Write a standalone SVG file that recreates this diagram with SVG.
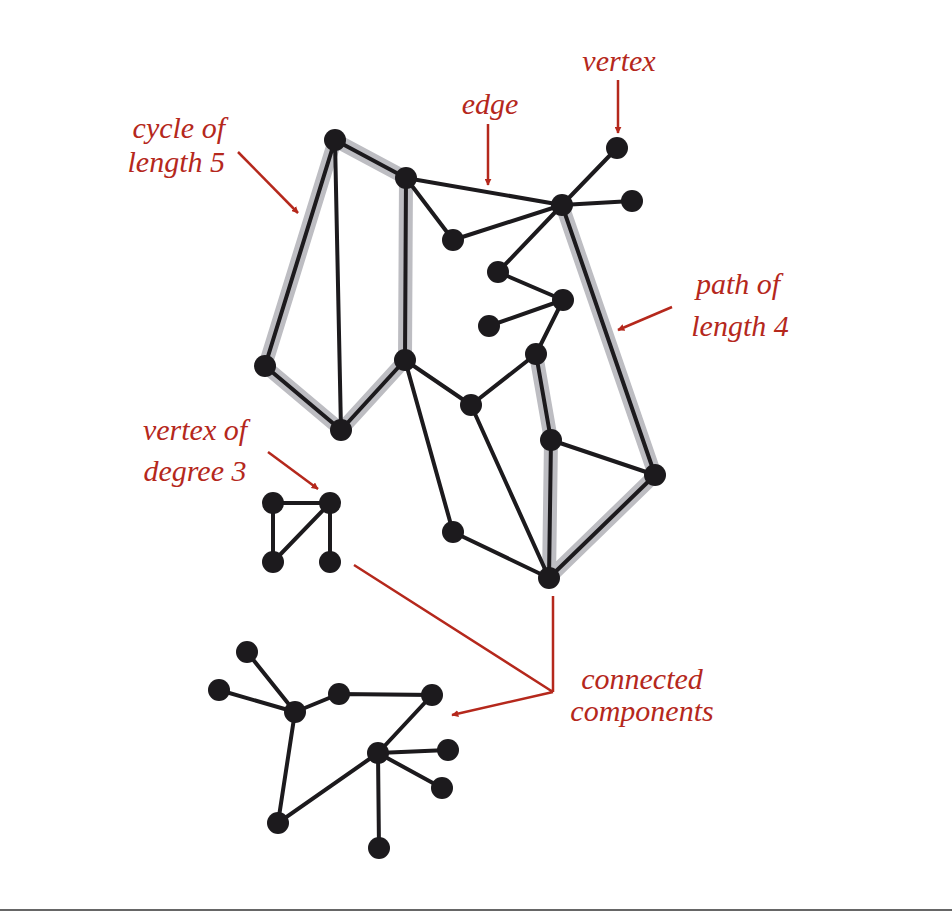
<svg xmlns="http://www.w3.org/2000/svg" width="952" height="913" viewBox="0 0 952 913">
<style>
.hl{stroke:#bdbdc2;stroke-width:14;fill:none;stroke-linejoin:round;stroke-linecap:round}
.e{stroke:#1c1a1d;stroke-width:4;fill:none}
.n{fill:#1c1a1d}
.l{font-family:"Liberation Serif",serif;font-style:italic;font-size:30px;fill:#b5281c}
.a{stroke:#b5281c;stroke-width:2.5;fill:none;marker-end:url(#ah)}
</style>
<defs><marker id="ah" viewBox="0 0 10 10" refX="9" refY="5" markerWidth="7" markerHeight="7" markerUnits="userSpaceOnUse" orient="auto"><path d="M0,0L10,5L0,10z" fill="#b5281c"/></marker>
<marker id="ah2" viewBox="0 0 10 10" refX="9" refY="5" markerWidth="14" markerHeight="14" markerUnits="userSpaceOnUse" orient="auto"><path d="M0,1L10,5L0,9z" fill="#b5281c"/></marker></defs>
<rect width="952" height="913" fill="#fff"/>
<g id="highlights">
<path class="hl" d="M335,140L406,178L405,360L341,430L265,366Z"/>
<path class="hl" d="M536,354L551,440L549,578L655,475L562,205"/>
</g>
<g id="connectors">
<path class="e" d="M335,140L406,178M335,140L265,366M335,140L341,430M406,178L562,205M406,178L453,240M406,178L405,360M562,205L453,240M562,205L617,148M562,205L632,201M562,205L498,272M498,272L563,300M563,300L489,326M563,300L536,354M536,354L471,405M536,354L551,440M405,360L471,405M405,360L453,532M405,360L341,430M265,366L341,430M471,405L549,578M453,532L549,578M551,440L549,578M551,440L655,475M655,475L562,205M655,475L549,578"/>
<path class="e" d="M273,503L330,503M273,503L273,562M330,503L273,562M330,503L330,562"/>
<path class="e" d="M247,652L295,712M219,690L295,712M295,712L339,694L432,695L378,753M295,712L278,823L378,753M378,753L448,750M378,753L442,788M378,753L379,848"/>
</g>
<g id="nodes" class="n">
<circle cx="335" cy="140" r="11"/><circle cx="406" cy="178" r="11"/><circle cx="562" cy="205" r="11"/><circle cx="617" cy="148" r="11"/><circle cx="632" cy="201" r="11"/><circle cx="453" cy="240" r="11"/><circle cx="498" cy="272" r="11"/><circle cx="563" cy="300" r="11"/><circle cx="489" cy="326" r="11"/><circle cx="536" cy="354" r="11"/><circle cx="405" cy="360" r="11"/><circle cx="265" cy="366" r="11"/><circle cx="341" cy="430" r="11"/><circle cx="471" cy="405" r="11"/><circle cx="551" cy="440" r="11"/><circle cx="655" cy="475" r="11"/><circle cx="453" cy="532" r="11"/><circle cx="549" cy="578" r="11"/>
<circle cx="273" cy="503" r="11"/><circle cx="330" cy="503" r="11"/><circle cx="273" cy="562" r="11"/><circle cx="330" cy="562" r="11"/>
<circle cx="247" cy="652" r="11"/><circle cx="219" cy="690" r="11"/><circle cx="295" cy="712" r="11"/><circle cx="339" cy="694" r="11"/><circle cx="432" cy="695" r="11"/><circle cx="378" cy="753" r="11"/><circle cx="448" cy="750" r="11"/><circle cx="442" cy="788" r="11"/><circle cx="278" cy="823" r="11"/><circle cx="379" cy="848" r="11"/>
</g>
<g id="labels">
<text class="l" x="619" y="71" text-anchor="middle">vertex</text>
<path class="a" marker-end="url(#ah2)" d="M618,80L618,133"/>
<text class="l" x="490" y="114" text-anchor="middle">edge</text>
<path class="a" marker-end="url(#ah2)" d="M488,124L488,185"/>
<text class="l" x="225" y="138" text-anchor="end">cycle of</text>
<text class="l" x="225" y="172" text-anchor="end">length 5</text>
<path class="a" marker-end="url(#ah2)" d="M238,152L298,213"/>
<text class="l" x="738" y="294" text-anchor="middle">path of</text>
<text class="l" x="740" y="336" text-anchor="middle">length 4</text>
<path class="a" marker-end="url(#ah2)" d="M672,307L618,330"/>
<text class="l" x="195" y="440" text-anchor="middle">vertex of</text>
<text class="l" x="195" y="481" text-anchor="middle">degree 3</text>
<path class="a" marker-end="url(#ah2)" d="M268,452L318,489"/>
<text class="l" x="642" y="689" text-anchor="middle">connected</text>
<text class="l" x="642" y="721" text-anchor="middle">components</text>
<path class="a" marker-end="url(#ah2)" d="M553,692L354,565M553,692L553,596M553,692L452,715"/>
</g>
<line x1="0" y1="910" x2="952" y2="910" stroke="#666" stroke-width="2"/>
</svg>
